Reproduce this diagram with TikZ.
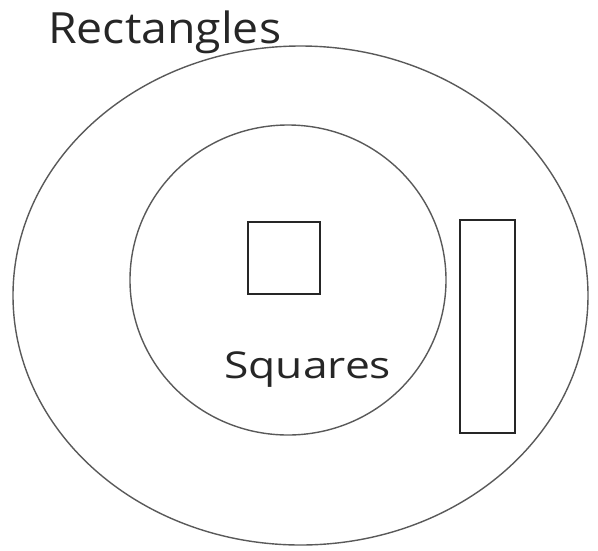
\documentclass[tikz,border=0pt]{standalone}
\usepackage{fontspec}
\setmainfont{Open Sans}
\begin{document}
\begin{tikzpicture}[x=1pt,y=-1pt,
  setline/.style={draw=black!65, line width=1.4pt},
  boxline/.style={draw=black!85, line width=1.8pt},
  lbl/.style={inner sep=0pt, anchor=base west, text=black!85}]
\useasboundingbox (0,0) rectangle (598,550);
\draw[setline] (300.5,295.5) ellipse [x radius=287.5, y radius=249.5];
\draw[setline] (288,280) ellipse [x radius=158, y radius=155];
\draw[boxline] (248,222) rectangle (320,294);
\draw[boxline] (460,220) rectangle (515,433);
\node[lbl, xscale=1.08, font=\fontsize{43}{46}\selectfont] (rect) at (48,43) {Rectangles};
\node[lbl, xscale=1.2, font=\fontsize{37}{40}\selectfont] (sq) at (224,378) {Squares};
\end{tikzpicture}
\end{document}
